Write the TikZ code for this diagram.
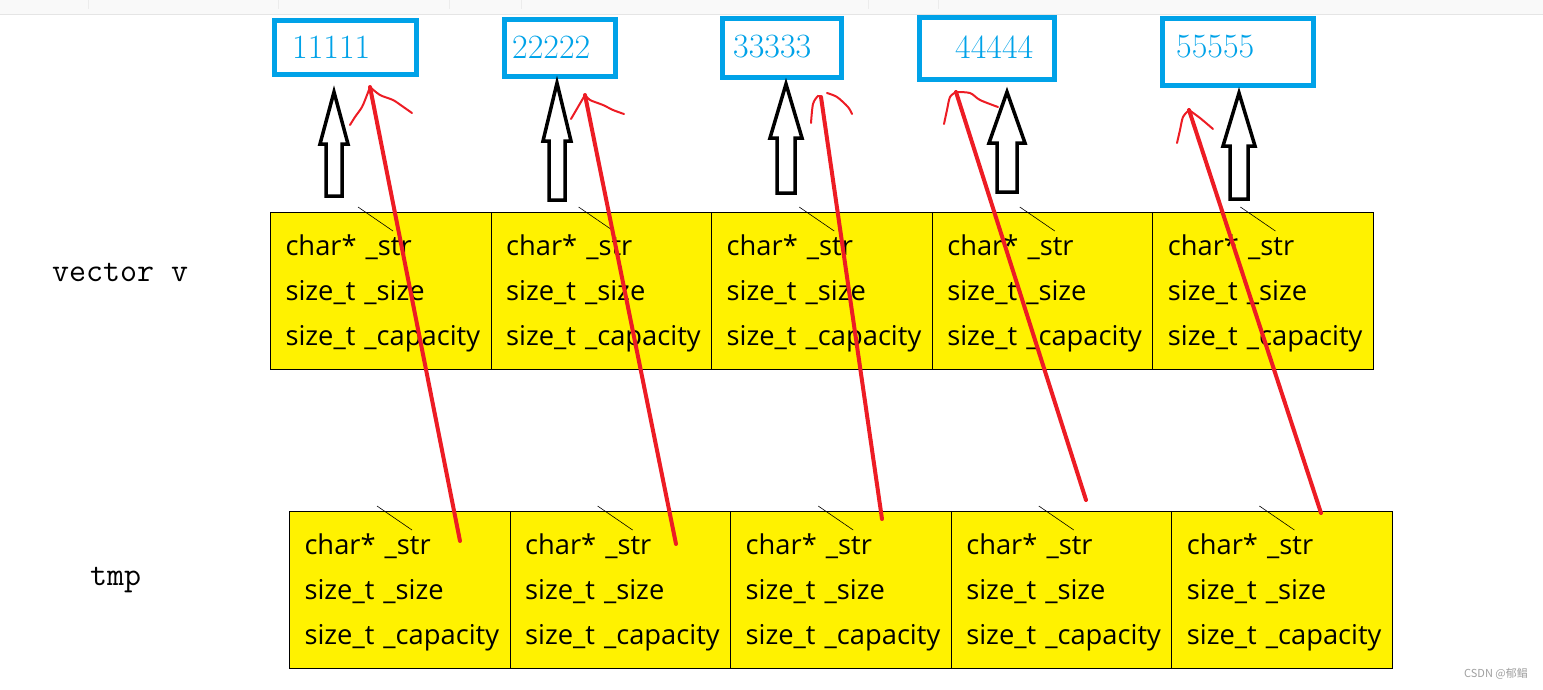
\documentclass[tikz,border=0pt]{standalone}
\usepackage{fontspec}
\newfontfamily\cellfont{Open Sans}
\newfontfamily\cjkfont{Noto Sans CJK SC}
\definecolor{paintblue}{RGB}{0,162,232}
\definecolor{paintred}{RGB}{237,28,36}
\definecolor{paintyellow}{RGB}{255,242,0}
\newcommand\fieldlist{\rule{0pt}{26pt}\mbox{char* \_str}\\\mbox{size\_t \_size}\\\mbox{size\_t \_capacity}}

\begin{document}
\begin{tikzpicture}[x=1pt,y=-1pt,
		cell node/.style={rectangle,draw=black,line width=1pt,fill=paintyellow,anchor=north west,
			minimum width=220.6pt,minimum height=157pt,text width=190.6pt,inner xsep=15pt,inner ysep=0pt,
			align=left,font=\cellfont\fontsize{27.3}{45}\selectfont},
		num box/.style={rectangle,draw=paintblue,line width=5pt,inner sep=0pt},
		num text/.style={anchor=west,inner sep=0pt,text=paintblue,font=\fontsize{34}{34}\selectfont},
		name label/.style={anchor=west,inner sep=0pt,font=\ttfamily\fontsize{33}{33}\selectfont},
		tick line/.style={line width=0.6pt},
		hollow arrow/.style={draw=black,line width=3.5pt,fill=white},
		red line/.style={draw=paintred,line width=4pt,line cap=round},
		red barb/.style={draw=paintred,line width=2pt,line cap=round}
		]
		
		\useasboundingbox (0,0) rectangle (1543,689);
		
		% toolbar strip of the screenshot
		\fill[gray!5] (0,0) rectangle (1543,14);
		\draw[gray!20,line width=1pt] (0,14) -- (1543,14);
		\foreach \s in {88,278,449,521,868,938}
			\draw[gray!15,line width=1pt] (\s,0) -- (\s,9);
		
		% the strings
		\foreach \i/\l/\t/\r/\b/\tx in {1/272/18/419/77/292, 2/502/17/618/79/512, 3/720/16/844/80/733, 4/917/15/1057/82/955, 5/1160/16/1316/88/1176} {
			\node[num box,minimum width={(\r-\l-5)*1pt},minimum height={(\b-\t-5)*1pt}] (s\i) at ({(\l+\r)/2},{(\t+\b)/2}) {};
			\node[num text] (n\i) at (\tx,47) {\i\i\i\i\i};
		}
		
		% vector v and tmp
		\node[name label] (vlab) at (52,272) {vector v};
		\node[name label] (tlab) at (90,580) {tmp};
		
		\foreach \i in {1,...,5} {
			\node[cell node] (v\i) at ({270+220.6*(\i-1)},212) {\fieldlist};
			\node[cell node] (t\i) at ({289+220.6*(\i-1)},511) {\fieldlist};
			\draw[tick line] ([shift={(88,-5)}]v\i.north west) -- ++(35,24);
			\draw[tick line] ([shift={(88,-5)}]t\i.north west) -- ++(35,24);
		}
		
		% black arrows
		\foreach \x/\ty/\hy/\hw/\sw/\by in {334/92/144/14/8/196, 557/83/141/14/8/200, 786/84/138/16/9/193, 1007/92/143/18/10/192, 1239/93/146/16/9/199}
			\draw[hollow arrow] (\x,\ty) -- (\x+\hw,\hy) -- (\x+\sw,\hy) -- (\x+\sw,\by) -- (\x-\sw,\by) -- (\x-\sw,\hy) -- (\x-\hw,\hy) -- cycle;
		
		% red arrows from tmp
		\foreach \i/\sx/\sy/\hx/\hy in {1/460/541/370/87, 2/676/544/585/95, 3/882/519/821/97, 4/1086/500/956/92, 5/1321/513/1189/110} {
			\coordinate (r\i) at (\sx,\sy);
			\coordinate (h\i) at (\hx,\hy);
			\draw[red line] (r\i) -- (h\i);
		}
		\draw[red barb] plot[smooth] coordinates {(h1) (367,95) (362,107) (355,117) (350,125)};
		\draw[red barb] plot[smooth] coordinates {(h1) (380,95) (393,100) (402,106) (412,113)};
		\draw[red barb] plot[smooth] coordinates {(h2) (578,107) (571,119)};
		\draw[red barb] plot[smooth] coordinates {(h2) (590,100) (603,105) (613,110) (624,114)};
		\draw[red barb] plot[smooth] coordinates {(h3) (818,96) (813,104) (811,123)};
		\draw[red barb] plot[smooth] coordinates {(827,93) (837,97) (848,107) (852,114)};
		\draw[red barb] plot[smooth] coordinates {(h4) (950,97) (947,110) (944,124)};
		\draw[red barb] plot[smooth] coordinates {(h4) (970,93) (980,100) (998,107)};
		\draw[red barb] plot[smooth] coordinates {(h5) (1183,117) (1180,130) (1177,143)};
		\draw[red barb] plot[smooth] coordinates {(h5) (1200,118) (1213,129)};
		
		\node[anchor=east,inner sep=0pt,text=gray!75,font=\cjkfont\fontsize{11}{11}\selectfont] (mark) at (1528,674) {CSDN @郁鲳};
		\end{tikzpicture}
\end{document}
